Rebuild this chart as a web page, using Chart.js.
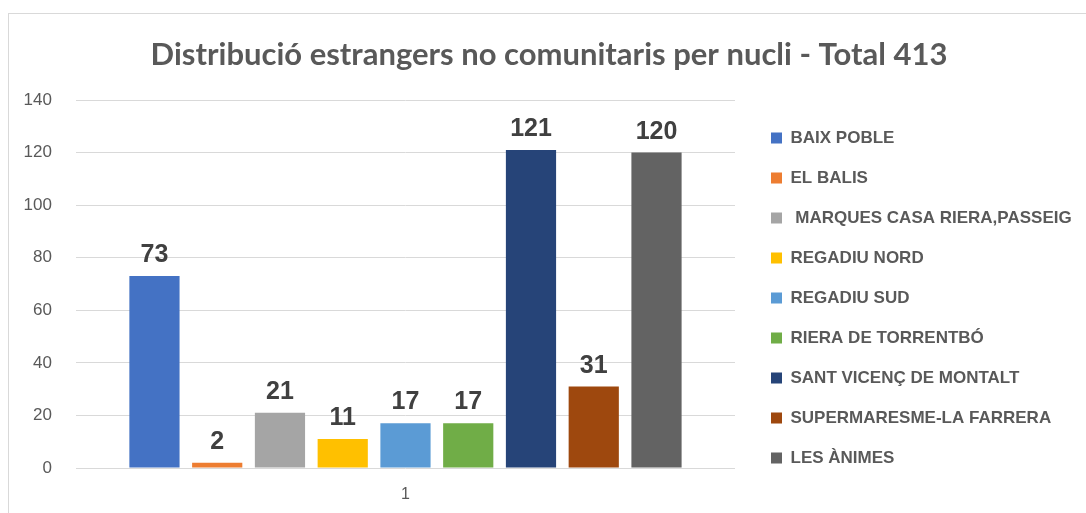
<!DOCTYPE html>
<html>
<head>
<meta charset="utf-8">
<script src="https://cdn.jsdelivr.net/npm/chart.js@4/dist/chart.umd.min.js"></script>
<style>
  html, body { margin: 0; padding: 0; background: #fff; overflow: hidden; }
  #frame {
    position: absolute; left: 8px; top: 13px; width: 1100px; height: 520px;
    border: 1px solid #d9d9d9; box-sizing: border-box;
  }
  #chart { position: absolute; left: -10px; top: 0; }
</style>
</head>
<body>
<div id="frame"><canvas id="chart" width="1100" height="508"></canvas></div>
<script>
const categories = ['1'];
const seriesNames = [
  'BAIX POBLE',
  'EL BALIS',
  ' MARQUES CASA RIERA,PASSEIG      ',
  'REGADIU NORD',
  'REGADIU SUD',
  'RIERA DE TORRENTBÓ',
  'SANT VICENÇ DE MONTALT',
  'SUPERMARESME-LA FARRERA',
  'LES ÀNIMES'
];
const seriesValues = [73, 2, 21, 11, 17, 17, 121, 31, 120];
const seriesColors = ['#4472c4', '#ed7d31', '#a5a5a5', '#ffc000', '#5b9bd5', '#70ad47', '#264478', '#9e480e', '#636363'];
const yTicks = [0, 20, 40, 60, 80, 100, 120, 140];

const TEXT = '#595959';
const SANS = '"Liberation Sans", Arial, sans-serif';

// value labels above each bar
const barLabels = {
  id: 'barLabels',
  afterDatasetsDraw(chart) {
    const ctx = chart.ctx;
    ctx.save();
    ctx.font = 'bold 25px ' + SANS;
    ctx.fillStyle = '#404040';
    ctx.textAlign = 'center';
    ctx.textBaseline = 'alphabetic';
    chart.data.datasets.forEach((ds, i) => {
      const meta = chart.getDatasetMeta(i);
      meta.data.forEach((bar, j) => {
        ctx.fillText(String(ds.data[j]), bar.x, bar.y - 14);
      });
    });
    ctx.restore();
  }
};

new Chart(document.getElementById('chart'), {
  type: 'bar',
  data: {
    labels: categories,
    datasets: seriesNames.map((name, i) => ({
      label: name,
      data: [seriesValues[i]],
      backgroundColor: seriesColors[i],
      borderWidth: 0,
      categoryPercentage: 0.857,
      barPercentage: 0.8
    }))
  },
  options: {
    responsive: false,
    animation: false,
    layout: { padding: { left: 0.6, right: 0.6, top: 0, bottom: 0 } },
    scales: {
      x: {
        grid: { display: false, drawTicks: false },
        border: { display: false },
        ticks: { color: TEXT, padding: 17.4, font: { family: SANS, size: 16 } }
      },
      y: {
        min: 0,
        max: 140,
        afterBuildTicks: (scale) => { scale.ticks = yTicks.map(v => ({ value: v })); },
        grid: { color: '#d9d9d9', drawTicks: false },
        border: { display: false },
        ticks: { color: TEXT, padding: 24, font: { family: SANS, size: 17 } }
      },
      yGap: {
        axis: 'y',
        position: 'right',
        display: true,
        grid: { display: false },
        border: { display: false },
        ticks: { display: false },
        afterFit: (scale) => { scale.width = 13; }
      }
    },
    plugins: {
      title: {
        display: true,
        text: 'Distribució estrangers no comunitaris per nucli - Total 413',
        color: TEXT,
        font: { family: 'Lato, "Open Sans", sans-serif', size: 31, weight: 'bold' },
        padding: { top: 22.4, bottom: 26.4 }
      },
      legend: {
        position: 'right',
        align: 'start',
        maxWidth: 350.4,
        // empty title only pushes the items down to line up with the reference
        title: { display: true, text: '', font: { size: 5, lineHeight: 1.3 }, padding: { top: 86, bottom: 0 } },
        labels: {
          color: TEXT,
          boxWidth: 11,
          boxHeight: 11,
          padding: 23,
          font: { family: SANS, size: 17, weight: 'bold' }
        }
      },
      tooltip: { enabled: false }
    }
  },
  plugins: [barLabels]
});
</script>
</body>
</html>
